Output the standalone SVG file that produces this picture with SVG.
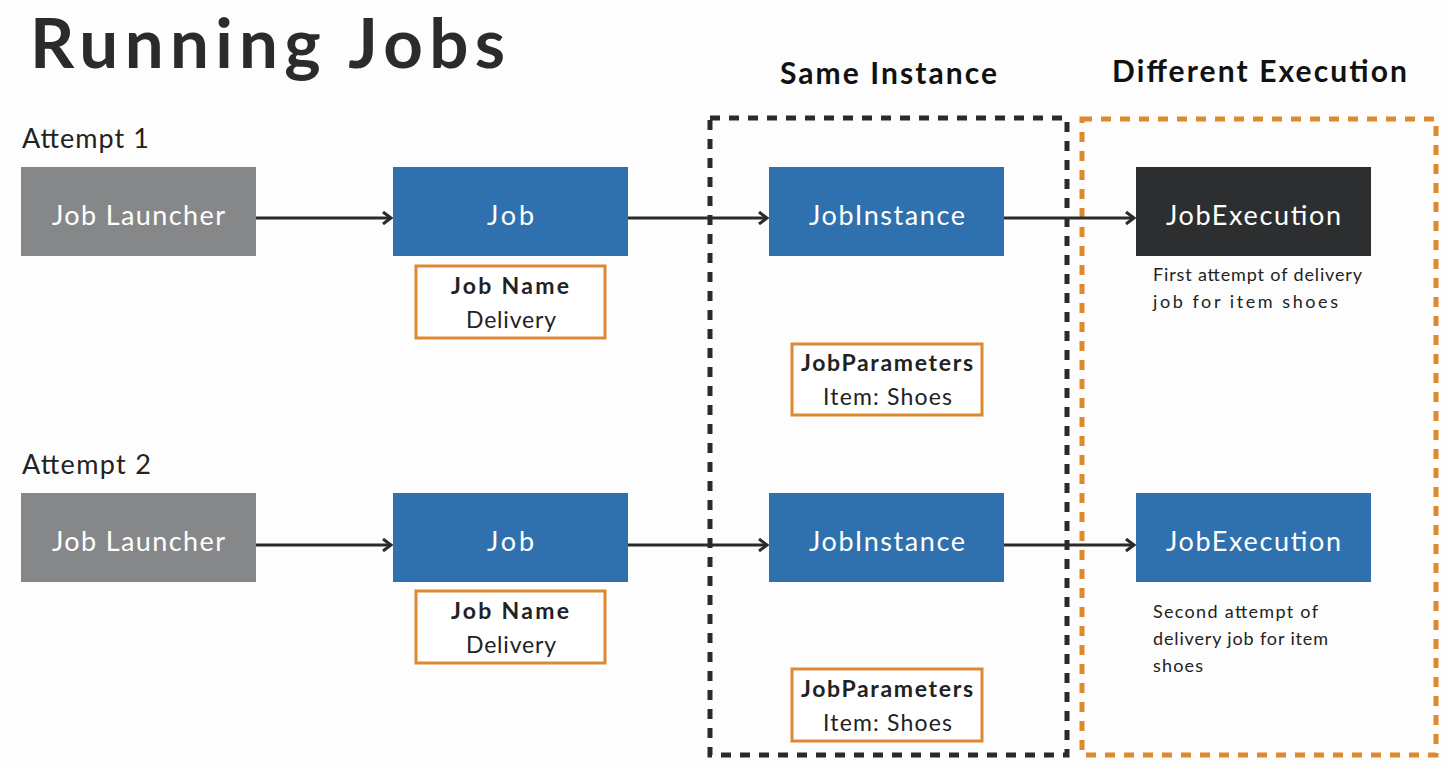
<svg xmlns="http://www.w3.org/2000/svg" width="1447" height="766" viewBox="0 0 1447 766">
<defs>
<style>
text{font-family:Lato,"Open Sans","Liberation Sans",sans-serif}
.title{font-size:69px;font-weight:bold;fill:#2b2b2b}
.hdr{font-size:30px;font-weight:bold;fill:#111}
.att{font-size:27px;fill:#222}
.lbl{font-size:27px;fill:#fff;text-anchor:middle}
.gray{fill:#868789}
.blue{fill:#2f70ae}
.dark{fill:#2d2e30}
.ob{fill:#fff;stroke:#dc8a32;stroke-width:3}
.ot{font-size:23px;fill:#222;text-anchor:middle}
.otb{font-weight:bold}
.note{font-size:18px;fill:#222}
.conn{stroke:#2a2a2a;stroke-width:3;fill:none;marker-end:url(#ah)}
</style>
<marker id="ah" markerWidth="14" markerHeight="14" refX="11" refY="7" orient="auto" markerUnits="userSpaceOnUse">
<path d="M3,1 L11,7 L3,13" fill="none" stroke="#2a2a2a" stroke-width="3"/>
</marker>
</defs>
<rect width="1447" height="766" fill="#fdfdfd"/>
<text class="title" x="30" y="68" textLength="475" lengthAdjust="spacing">Running Jobs</text>
<text class="hdr" x="888.5" y="84" text-anchor="middle" textLength="217" lengthAdjust="spacing">Same Instance</text>
<text class="hdr" x="1259.5" y="82" text-anchor="middle" textLength="295" lengthAdjust="spacing">Different Execution</text>
<text class="att" x="22" y="148" textLength="127" lengthAdjust="spacing">Attempt 1</text>
<text class="att" x="22" y="474" textLength="129" lengthAdjust="spacing">Attempt 2</text>

<g id="regions">
<rect x="710" y="118" width="357" height="637" fill="none" stroke="#2a2a2a" stroke-width="5" stroke-dasharray="10 9"/>
<rect x="1082" y="119" width="354" height="636" fill="none" stroke="#dc8a32" stroke-width="5" stroke-dasharray="10 9"/>
</g>

<g id="connectors">
<line class="conn" x1="256" y1="218" x2="391" y2="218"/>
<line class="conn" x1="628" y1="218" x2="767" y2="218"/>
<line class="conn" x1="1004" y1="218" x2="1134" y2="218"/>
<line class="conn" x1="256" y1="545" x2="391" y2="545"/>
<line class="conn" x1="628" y1="545" x2="767" y2="545"/>
<line class="conn" x1="1004" y1="545" x2="1134" y2="545"/>
</g>

<g id="launcher1"><rect class="gray" x="21" y="167" width="235" height="89"/><text class="lbl" x="138.5" y="225" textLength="173" lengthAdjust="spacing">Job Launcher</text></g>
<g id="job1"><rect class="blue" x="393" y="167" width="235" height="89"/><text class="lbl" x="510.5" y="225" textLength="47" lengthAdjust="spacing">Job</text></g>
<g id="instance1"><rect class="blue" x="769" y="167" width="235" height="89"/><text class="lbl" x="887" y="225" textLength="156" lengthAdjust="spacing">JobInstance</text></g>
<g id="execution1"><rect class="dark" x="1136" y="167" width="235" height="89"/><text class="lbl" x="1253.5" y="225" textLength="175" lengthAdjust="spacing">JobExecution</text></g>
<g id="jobname1"><rect class="ob" x="416" y="266" width="189" height="72"/><text class="ot otb" x="510" y="294" textLength="118" lengthAdjust="spacing">Job Name</text><text class="ot" x="511" y="328" textLength="90" lengthAdjust="spacing">Delivery</text></g>
<g id="params1"><rect class="ob" x="792" y="344" width="190" height="71"/><text class="ot otb" x="887" y="371" textLength="172" lengthAdjust="spacing">JobParameters</text><text class="ot" x="887.5" y="405" textLength="129" lengthAdjust="spacing">Item: Shoes</text></g>
<g id="note1"><text class="note" x="1153" y="281" textLength="209" lengthAdjust="spacing">First attempt of delivery</text><text class="note" x="1153" y="308" textLength="185" lengthAdjust="spacing">job for item shoes</text></g>

<g id="launcher2"><rect class="gray" x="21" y="493" width="235" height="89"/><text class="lbl" x="138.5" y="551" textLength="173" lengthAdjust="spacing">Job Launcher</text></g>
<g id="job2"><rect class="blue" x="393" y="493" width="235" height="89"/><text class="lbl" x="510.5" y="551" textLength="47" lengthAdjust="spacing">Job</text></g>
<g id="instance2"><rect class="blue" x="769" y="493" width="235" height="89"/><text class="lbl" x="887" y="551" textLength="156" lengthAdjust="spacing">JobInstance</text></g>
<g id="execution2"><rect class="blue" x="1136" y="493" width="235" height="89"/><text class="lbl" x="1253.5" y="551" textLength="175" lengthAdjust="spacing">JobExecution</text></g>
<g id="jobname2"><rect class="ob" x="416" y="591" width="189" height="72"/><text class="ot otb" x="510" y="619" textLength="118" lengthAdjust="spacing">Job Name</text><text class="ot" x="511" y="653" textLength="90" lengthAdjust="spacing">Delivery</text></g>
<g id="params2"><rect class="ob" x="792" y="669" width="190" height="72"/><text class="ot otb" x="887" y="697" textLength="172" lengthAdjust="spacing">JobParameters</text><text class="ot" x="887.5" y="731" textLength="129" lengthAdjust="spacing">Item: Shoes</text></g>
<g id="note2"><text class="note" x="1153" y="618" textLength="165" lengthAdjust="spacing">Second attempt of</text><text class="note" x="1153" y="645" textLength="175" lengthAdjust="spacing">delivery job for item</text><text class="note" x="1153" y="672" textLength="50" lengthAdjust="spacing">shoes</text></g>
</svg>
